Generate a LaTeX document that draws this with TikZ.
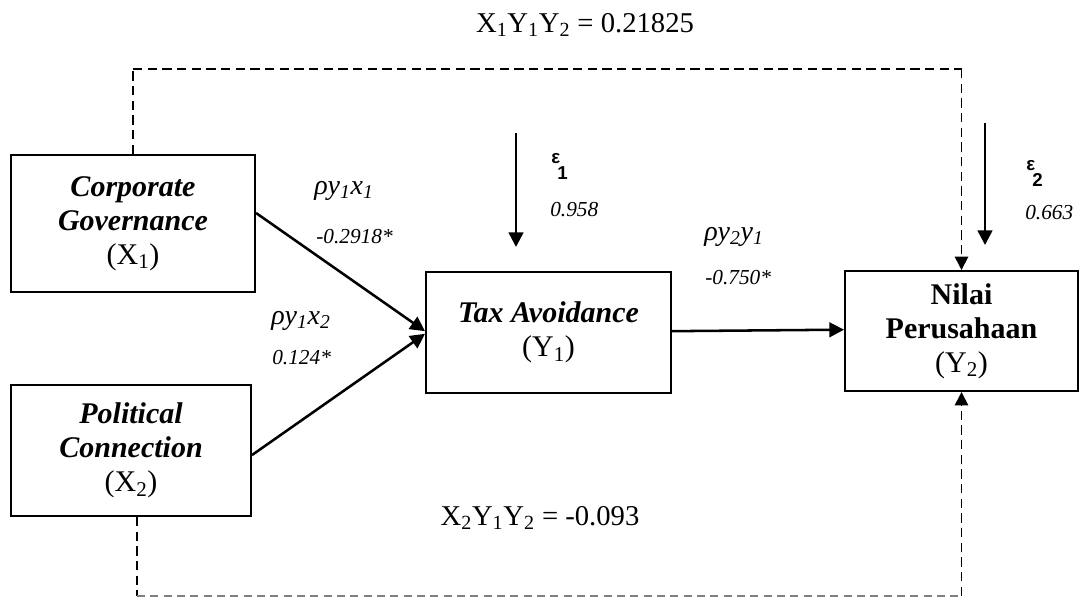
\documentclass[tikz,border=0pt]{standalone}
\usepackage{fontspec}
\setmainfont{Liberation Serif}
\newfontfamily\epsfont{Liberation Sans}
\usetikzlibrary{arrows.meta}
\begin{document}
\begin{tikzpicture}[x=0.75pt,y=-0.75pt,
  box/.style={draw,line width=1.5pt,align=center,inner sep=0pt,
    font=\fontsize{22.5}{25.5}\selectfont},
  path/.style={line width=1.9pt,-{Triangle[length=11pt,width=11pt]}},
  dsh/.style={line width=1.3pt,dash pattern=on 7pt off 4pt},
  dshh/.style={line width=1pt,dash pattern=on 6pt off 4pt,gray},
  tipd/.style={-{Triangle[length=10pt,width=10pt]}},
  rho/.style={font=\fontsize{21}{24}\selectfont\itshape,inner sep=0pt},
  coef/.style={font=\fontsize{16}{18}\selectfont\itshape,inner sep=0pt},
  eps/.style={font=\fontsize{14}{16}\selectfont\epsfont\bfseries,inner sep=0pt},
  epsn/.style={font=\fontsize{14}{16}\selectfont\epsfont\bfseries,inner sep=0pt},
  eq/.style={font=\fontsize{21.5}{24}\selectfont,inner sep=0pt}]
\useasboundingbox (0,0) rectangle (1080,601);

% boxes
\node[box,minimum width=183pt,minimum height=102.75pt] (X1) at (133,223.5)
  {\textbf{\textit{Corporate}}\\\textbf{\textit{Governance}}\\(X\textsubscript{1})};
\node[box,minimum width=180pt,minimum height=98.25pt] (X2) at (131,450.5)
  {\textbf{\textit{Political}}\\\textbf{\textit{Connection}}\\(X\textsubscript{2})};
\node[box,minimum width=183.75pt,minimum height=90.75pt] (T) at (548.5,332.5)
  {\textbf{\textit{Tax Avoidance}}\\(Y\textsubscript{1})};
\node[box,minimum width=174.75pt,minimum height=90pt] (N) at (961.5,331)
  {\textbf{Nilai}\\\textbf{Perusahaan}\\(Y\textsubscript{2})};

% direct paths
\draw[path] ([yshift=7.9pt]X1.east) -- ([yshift=1pt]T.west);
\draw[path] ([yshift=-3.4pt]X2.east) -- ([yshift=-1pt]T.west);
\draw[path] ([yshift=1pt]T.east) -- ([yshift=1pt]N.west);

% error terms
\coordinate (e1s) at (516,133);
\coordinate (e1e) at (516,247);
\draw[path] (e1s) -- (e1e);
\coordinate (e2s) at (985,123);
\coordinate (e2e) at (985,245);
\draw[path] (e2s) -- (e2e);

% indirect dashed paths
\coordinate (tl) at (133,69);
\coordinate (tr) at (961.5,69);
\draw[dsh] (X1.north) -- (tl);
\draw[dsh] (tl) -- (tr);
\draw[dsh,tipd] (tr) -- (N.north);
\coordinate (bl) at (137,596);
\coordinate (br) at (961.5,596);
\draw[dsh] ([xshift=4.5pt]X2.south) -- (bl);
\draw[dshh] (bl) -- (br);
\draw[dsh,tipd] (br) -- (N.south);

% labels
\node[eq] (l1) at (585,25) {X\textsubscript{1}Y\textsubscript{1}Y\textsubscript{2} = 0.21825};
\node[eq] (l2) at (540,518) {X\textsubscript{2}Y\textsubscript{1}Y\textsubscript{2} = -0.093};
\node[rho,anchor=west] (r1) at (314,191) {ρy\textsubscript{1}x\textsubscript{1}};
\node[coef,anchor=west] (c1) at (316,237) {-0.2918*};
\node[rho,anchor=west] (r2) at (271,321) {ρy\textsubscript{1}x\textsubscript{2}};
\node[coef,anchor=west] (c2) at (272,358) {0.124*};
\node[rho,anchor=west] (r3) at (704,237) {ρy\textsubscript{2}y\textsubscript{1}};
\node[coef,anchor=west] (c3) at (705,278) {-0.750*};
\node[eps,anchor=west] (ep1) at (551,159) {ε};
\node[epsn,anchor=west] (n1) at (557,173) {1};
\node[coef,anchor=west] (c4) at (550,210) {0.958};
\node[eps,anchor=west] (ep2) at (1026,166) {ε};
\node[epsn,anchor=west] (n2) at (1032,180) {2};
\node[coef,anchor=west] (c5) at (1025,213) {0.663};
\end{tikzpicture}
\end{document}
